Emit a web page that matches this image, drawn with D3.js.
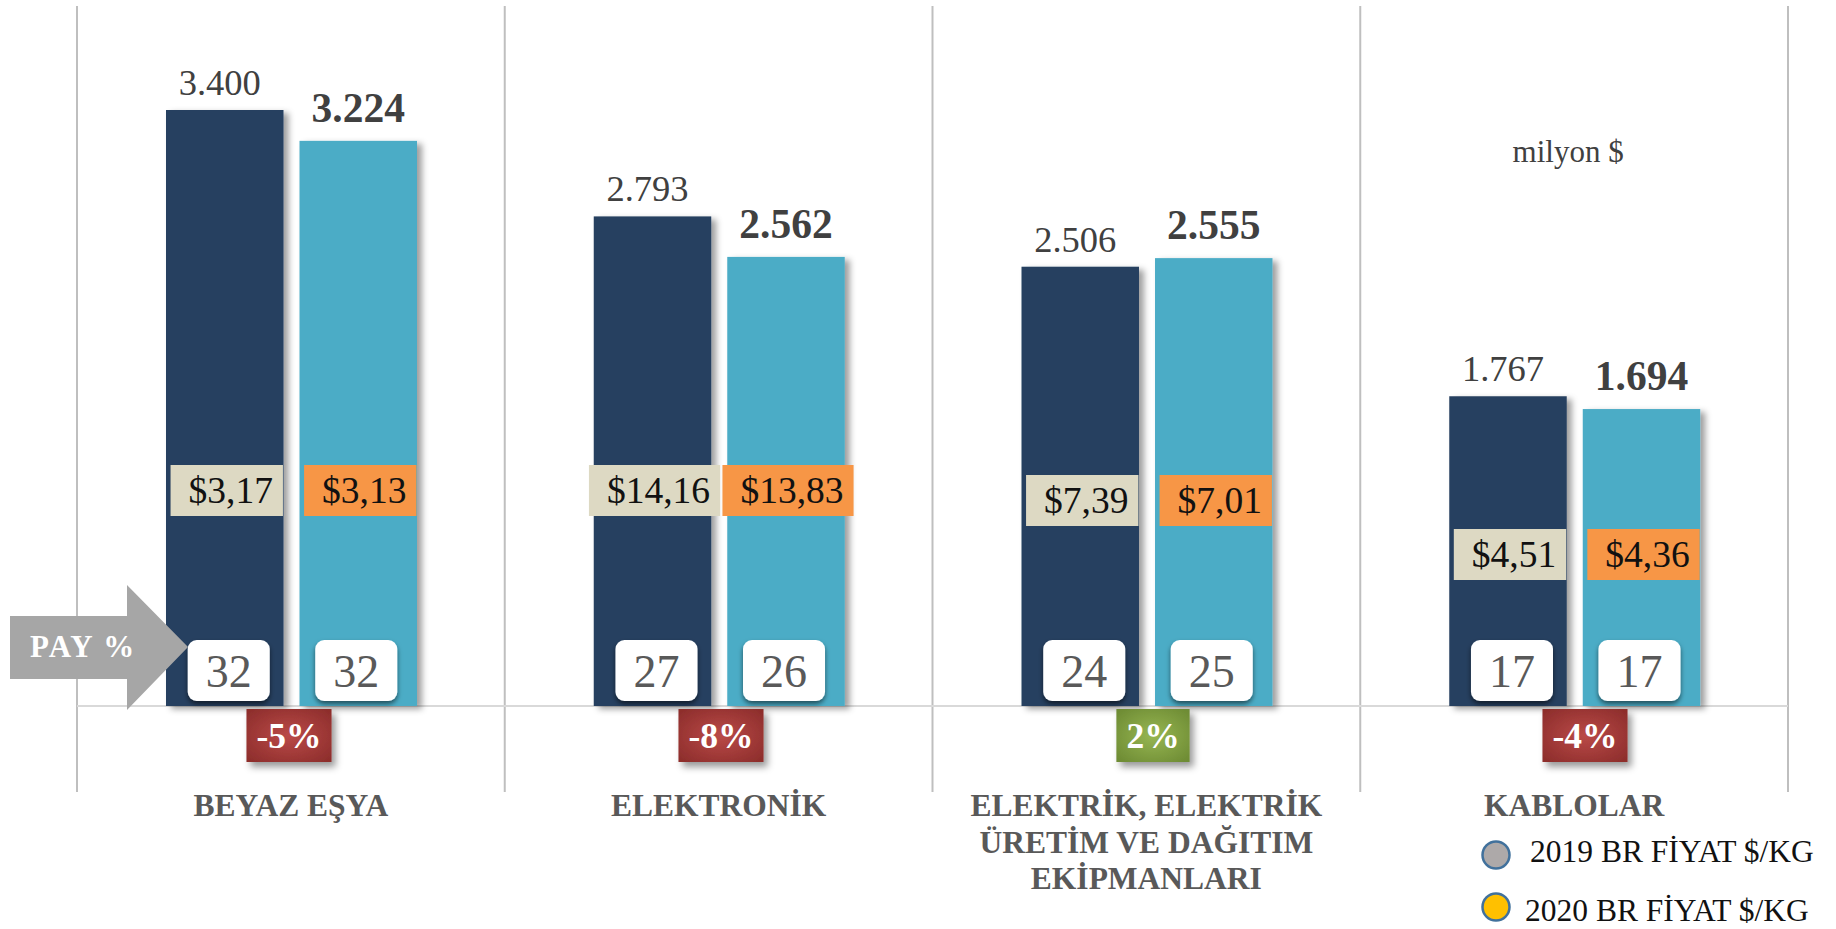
<!DOCTYPE html>
<html>
<head>
<meta charset="utf-8">
<script src="https://cdn.jsdelivr.net/npm/d3@7"></script>
<style>
  body { margin: 0; background: #ffffff; }
  svg { display: block; font-family: "Liberation Serif", "Times New Roman", serif; }
</style>
</head>
<body>
<svg id="chart" width="1836" height="929"></svg>
<script>
// ---------------- DATA ----------------
const categories = ["BEYAZ EŞYA", "ELEKTRONİK", "ELEKTRİK, ELEKTRİK\nÜRETİM VE DAĞITIM\nEKİPMANLARI", "KABLOLAR"];
const years = ["2019", "2020"];
const exports2019 = [3400, 2793, 2506, 1767];   // milyon $
const exports2020 = [3224, 2562, 2555, 1694];   // milyon $
const price2019 = [3.17, 14.16, 7.39, 4.51];     // $/KG
const price2020 = [3.13, 13.83, 7.01, 4.36];     // $/KG
const share2019 = [32, 27, 24, 17];              // PAY %
const share2020 = [32, 26, 25, 17];              // PAY %
const changePct = [-5, -8, 2, -4];               // değişim %
const legendLabels = ["2019 BR FİYAT $/KG", "2020 BR FİYAT $/KG"];
const unitLabel = "milyon $";
const pointerLabel = "PAY %";

// ---------------- LAYOUT / STYLE ----------------
const svg = d3.select("#chart");
const barColor = { "2019": "#264061", "2020": "#4BACC6" };
const priceColor = { "2019": "#DDD9C3", "2020": "#F79646" };
const legendFill = ["#ADA9A9", "#FFC000"];
const priceBoxTop = [465, 465, 475, 529];   // vertical placement of price tags per group

const x0 = d3.scaleBand().domain(categories).range([77, 1788]).padding(0);
const x1 = d3.scaleBand().domain(years).range([89, 340]).paddingInner(0.12);
const xAnno = d3.scaleBand().domain(categories).range([73, 1801]).padding(0);
const y = d3.scaleLinear().domain([0, 3400]).range([706, 110]);

const loc = d3.formatLocale({ decimal: ",", thousands: ".", grouping: [3], currency: ["$", ""] });
const fmtInt = loc.format(",d");
const fmtPrice = loc.format("$,.2f");

const rows = categories.map((c, i) => ({
  cat: c, i,
  change: changePct[i],
  bars: [
    { year: "2019", v: exports2019[i], price: price2019[i], share: share2019[i] },
    { year: "2020", v: exports2020[i], price: price2020[i], share: share2020[i] }
  ]
}));

// ---------------- DEFS ----------------
const defs = svg.append("defs");
const fBar = defs.append("filter").attr("id", "barShadow")
  .attr("x", "-20%").attr("y", "-10%").attr("width", "150%").attr("height", "130%");
fBar.append("feDropShadow").attr("dx", 5).attr("dy", 3).attr("stdDeviation", 3)
  .attr("flood-color", "#000").attr("flood-opacity", 0.38);

const fPay = defs.append("filter").attr("id", "payShadow")
  .attr("x", "-20%").attr("y", "-20%").attr("width", "150%").attr("height", "160%");
fPay.append("feDropShadow").attr("dx", 0).attr("dy", 3).attr("stdDeviation", 2.5)
  .attr("flood-color", "#000").attr("flood-opacity", 0.55);

const fChg = defs.append("filter").attr("id", "chgShadow")
  .attr("x", "-20%").attr("y", "-20%").attr("width", "150%").attr("height", "160%");
fChg.append("feDropShadow").attr("dx", 4).attr("dy", 5).attr("stdDeviation", 3.5)
  .attr("flood-color", "#000").attr("flood-opacity", 0.4);

const gRed = defs.append("radialGradient").attr("id", "gradRed").attr("cx", "50%").attr("cy", "50%").attr("r", "65%");
gRed.append("stop").attr("offset", "0%").attr("stop-color", "#BA4A48");
gRed.append("stop").attr("offset", "100%").attr("stop-color", "#8E2E2C");
const gGreen = defs.append("radialGradient").attr("id", "gradGreen").attr("cx", "50%").attr("cy", "50%").attr("r", "65%");
gGreen.append("stop").attr("offset", "0%").attr("stop-color", "#97B652");
gGreen.append("stop").attr("offset", "100%").attr("stop-color", "#6E8C34");

// ---------------- GRID ----------------
const gridX = categories.map(c => x0(c)).concat([x0.range()[1]]);
svg.append("g").selectAll("line").data(gridX).join("line")
  .attr("x1", d => d).attr("x2", d => d)
  .attr("y1", 6).attr("y2", 792)
  .attr("stroke", "#BFBFBF").attr("stroke-width", 2);

svg.append("line")
  .attr("x1", x0.range()[0]).attr("x2", x0.range()[1])
  .attr("y1", y(0)).attr("y2", y(0))
  .attr("stroke", "#D9D9D9").attr("stroke-width", 2);

// ---------------- BARS ----------------
const groups = svg.append("g").selectAll("g.grp").data(rows).join("g")
  .attr("class", "grp")
  .attr("transform", d => `translate(${x0(d.cat)},0)`);

groups.selectAll("rect.bar").data(d => d.bars).join("rect")
  .attr("class", "bar")
  .attr("x", d => x1(d.year))
  .attr("y", d => y(d.v))
  .attr("width", x1.bandwidth())
  .attr("height", d => y(0) - y(d.v))
  .attr("fill", d => barColor[d.year])
  .attr("filter", "url(#barShadow)");

// value labels
groups.selectAll("text.val").data(d => d.bars).join("text")
  .attr("class", "val")
  .attr("x", d => x1(d.year) + x1.bandwidth() / 2 + (d.year === "2019" ? -5 : 0))
  .attr("y", d => y(d.v) - (d.year === "2019" ? 15 : 19))
  .attr("text-anchor", "middle")
  .attr("font-size", d => d.year === "2019" ? 36.5 : 41.5)
  .attr("font-weight", d => d.year === "2019" ? "normal" : "bold")
  .attr("fill", "#404040")
  .text(d => fmtInt(d.v));

// ---------------- PRICE TAGS ----------------
rows.forEach((r, gi) => {
  const g = groups.filter(d => d.i === gi);
  r.bars.forEach(b => {
    const cx = x1(b.year) + x1.bandwidth() / 2;
    const top = priceBoxTop[gi];
    const tg = g.append("g");
    const rect = tg.append("rect");
    const t = tg.append("text")
      .attr("font-size", 37.5)
      .attr("fill", "#111")
      .text(fmtPrice(b.price));
    const tw = t.node().getComputedTextLength();
    const w = tw + 28;
    const left = cx - w / 2 + 2;
    rect.attr("x", left).attr("y", top).attr("width", w).attr("height", 51)
      .attr("fill", priceColor[b.year]);
    t.attr("x", left + 18).attr("y", top + 38);
  });
});

// ---------------- PAY % BOXES ----------------
const payW = 82, payH = 61;
const payG = groups.selectAll("g.pay").data(d => d.bars).join("g").attr("class", "pay");
payG.append("rect")
  .attr("x", d => x1(d.year) + x1.bandwidth() / 2 - payW / 2 + (d.year === "2019" ? 4 : -2))
  .attr("y", y(0) - 66)
  .attr("width", payW).attr("height", payH)
  .attr("rx", 9).attr("ry", 9)
  .attr("fill", "#ffffff")
  .attr("filter", "url(#payShadow)");
payG.append("text")
  .attr("x", d => x1(d.year) + x1.bandwidth() / 2 + (d.year === "2019" ? 4 : -2))
  .attr("y", y(0) - 19)
  .attr("text-anchor", "middle")
  .attr("font-size", 46)
  .attr("fill", "#595959")
  .text(d => d.share);

// ---------------- PAY % ARROW ----------------
const tipX = x0(categories[0]) + x1("2019") + 22;
const midY = y(0) - 59;
const arrow = svg.append("g");
arrow.append("path")
  .attr("d", d3.line()([
    [10, midY - 31], [127, midY - 31], [127, midY - 62], [tipX, midY],
    [127, midY + 63], [127, midY + 32], [10, midY + 32]
  ]) + "Z")
  .attr("fill", "#A6A6A6");
arrow.append("text")
  .attr("x", 30).attr("y", midY + 10)
  .attr("font-size", 31).attr("font-weight", "bold")
  .attr("letter-spacing", 2)
  .attr("fill", "#ffffff")
  .text(pointerLabel);

// ---------------- CHANGE BOXES ----------------
rows.forEach((r, gi) => {
  const cx = xAnno(r.cat) + xAnno.bandwidth() / 2;
  const top = y(0) + 3;
  const g = svg.append("g");
  const rect = g.append("rect");
  const label = (r.change > 0 ? "" : "-") + Math.abs(r.change) + "%";
  const t = g.append("text")
    .attr("font-size", 35.5).attr("font-weight", "bold")
    .attr("fill", "#ffffff").attr("text-anchor", "middle")
    .text(label);
  const tw = t.node().getComputedTextLength();
  const w = tw + 20;
  rect.attr("x", cx - w / 2).attr("y", top).attr("width", w).attr("height", 53)
    .attr("fill", r.change < 0 ? "url(#gradRed)" : "url(#gradGreen)")
    .attr("filter", "url(#chgShadow)");
  t.attr("x", cx).attr("y", top + 39);
});

// ---------------- CATEGORY LABELS ----------------
rows.forEach(r => {
  const t = svg.append("text")
    .attr("x", x0(r.cat) + x0.bandwidth() / 2)
    .attr("y", 816)
    .attr("text-anchor", "middle")
    .attr("font-size", 31.5).attr("font-weight", "bold")
    .attr("fill", "#595959");
  r.cat.split("\n").forEach((line, li) => {
    t.append("tspan")
      .attr("x", x0(r.cat) + x0.bandwidth() / 2)
      .attr("dy", li === 0 ? 0 : 36.5)
      .text(line);
  });
});

// ---------------- UNIT LABEL ----------------
svg.append("text")
  .attr("x", x0(categories[3]) + x0.bandwidth() / 2 - 6)
  .attr("y", 162)
  .attr("text-anchor", "middle")
  .attr("font-size", 31)
  .attr("fill", "#404040")
  .text(unitLabel);

// ---------------- LEGEND ----------------
const leg = svg.append("g").selectAll("g").data(legendLabels).join("g");
leg.append("circle")
  .attr("cx", 1496)
  .attr("cy", (d, i) => 855 + i * 52)
  .attr("r", 13.5)
  .attr("fill", (d, i) => legendFill[i])
  .attr("stroke", "#41719C").attr("stroke-width", 2.5);
leg.append("text")
  .attr("x", (d, i) => 1530 - i * 5)
  .attr("y", (d, i) => 862 + i * 59)
  .attr("font-size", 31.5)
  .attr("fill", "#111")
  .text(d => d);
</script>
</body>
</html>
